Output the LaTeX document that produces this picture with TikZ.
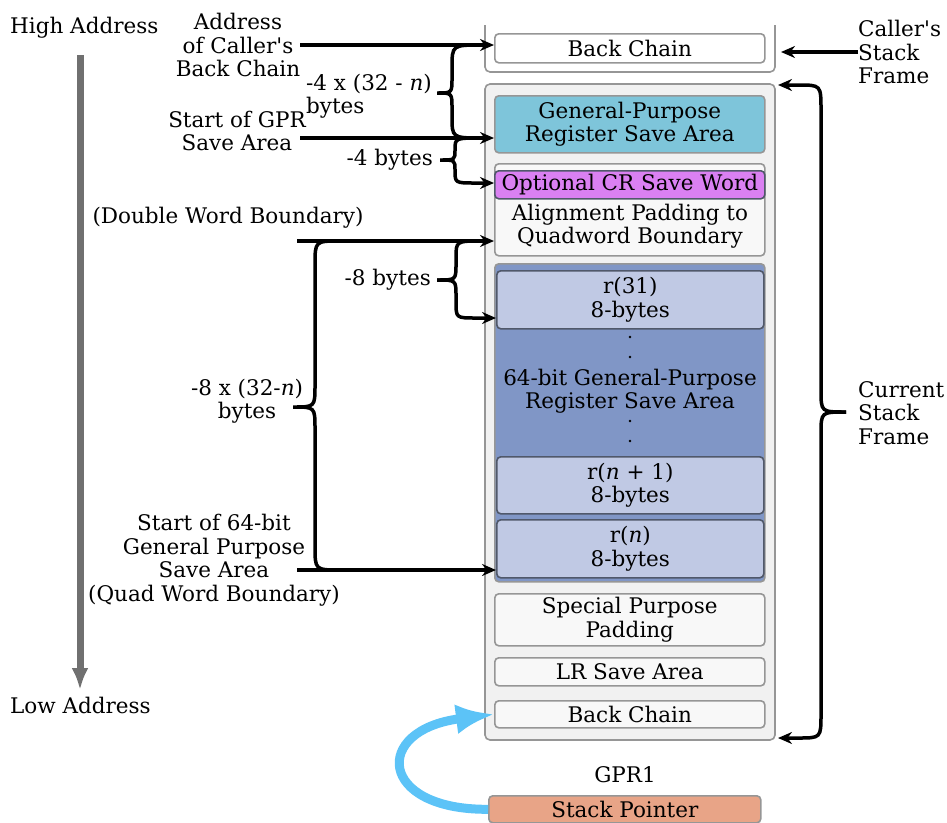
\documentclass[tikz,border=0pt]{standalone}
\usepackage{fontspec}
\setmainfont{DejaVu Serif}
\usetikzlibrary{arrows.meta}

\definecolor{framegray}{RGB}{150,150,150}
\definecolor{framefill}{RGB}{241,241,241}
\definecolor{slotfill}{RGB}{248,248,248}
\definecolor{gprfill}{RGB}{126,197,218}
\definecolor{crfill}{RGB}{218,128,242}
\definecolor{regmid}{RGB}{128,150,198}
\definecolor{regfill}{RGB}{192,201,228}
\definecolor{regdraw}{RGB}{80,88,106}
\definecolor{spfill}{RGB}{232,164,135}
\definecolor{spblue}{RGB}{92,195,247}
\definecolor{addrgray}{RGB}{112,112,112}

\begin{document}
\begin{tikzpicture}[x=1pt,y=-1pt,font=\fontsize{21.5}{23.5}\selectfont,
	frame/.style={draw=framegray,line width=1.6pt,rounded corners=5pt,fill=framefill},
	slot/.style={draw=framegray,line width=1.6pt,rounded corners=4pt,fill=slotfill,
		minimum width=270pt,align=center,inner sep=0pt,anchor=north west},
	reg/.style={slot,draw=regdraw,fill=regfill,minimum width=267pt},
	ptr/.style={-{Stealth[length=14pt,width=12pt]},line width=3.5pt},
	brace/.style={line width=3.5pt},
	lbl/.style={align=center,inner sep=0pt}]
	\useasboundingbox (0,0) rectangle (947,822);

	% caller's frame (open at the top)
	\draw[draw=framegray,line width=1.6pt,rounded corners=5pt,fill=white]
		(485,25) -- (485,72) -- (775,72) -- (775,25);
	\node[slot,fill=white,minimum height=29pt] (bctop) at (494,33) {Back Chain};

	% current frame
	\draw[frame] (485,84) rectangle (775,740);
	\coordinate (curNE) at (775,85);
	\coordinate (curSE) at (775,738);
	\node[slot,fill=gprfill,minimum height=57pt] (gpr) at (494,95)
		{General-Purpose\\Register Save Area};
	\node[slot,minimum height=92pt] (crgroup) at (494,163) {};
	\node[slot,fill=crfill,draw=regdraw,minimum height=28pt] (cr) at (494,170)
		{Optional CR Save Word};
	\node[lbl] (pad) at (630,226) {Alignment Padding to\\Quadword Boundary};
	\node[slot,fill=regmid,minimum height=318pt] (regs) at (494,263) {};
	\node[reg,minimum height=58pt] (r31) at (496,270) {r(31)\\8-bytes};
	\node[lbl] (regtxt) at (630,391) {64-bit General-Purpose\\Register Save Area};
	\foreach \y in {337,357,421,441}
		\fill (630,\y) circle (1.4pt);
	\node[reg,minimum height=57pt] (rn1) at (496,456) {r(\textit{n} + 1)\\8-bytes};
	\node[reg,minimum height=58pt] (rn) at (496,519) {r(\textit{n})\\8-bytes};
	\node[slot,minimum height=52pt] (spp) at (494,593) {Special Purpose\\Padding};
	\node[slot,minimum height=28pt] (lr) at (494,657) {LR Save Area};
	\node[slot,minimum height=27pt] (bcur) at (494,700) {Back Chain};

	% stack pointer
	\node[lbl] (gpr1) at (625,775) {GPR1};
	\node[slot,fill=spfill,minimum width=272pt,minimum height=27pt] (sp) at (488,795)
		{Stack Pointer};
	\draw[-{Latex[length=38pt,width=30pt]},line width=9pt,draw=spblue]
		(sp.west) .. controls (378,810) and (372,730) .. (bcur.west);

	% address direction
	\node[anchor=west,inner sep=0pt] (high) at (10,28) {High Address};
	\node[anchor=west,inner sep=0pt] (low) at (10,705) {Low Address};
	\draw[-{Latex[length=22pt,width=17pt]},line width=7pt,draw=addrgray]
		(80,55) -- (80,690);

	% left labels and pointers
	\node[lbl] (callerbc) at (238,45) {Address\\of Caller\textquotesingle s\\Back Chain};
	\draw[ptr] (callerbc.east) -- (callerbc.east -| bctop.west);
	\node[lbl] (gprstart) at (237,131) {Start of GPR\\Save Area};
	\coordinate (gprline) at (300,138);
	\draw[ptr] (gprline) -- (gprline -| gpr.west);
	\node[lbl] (dwb) at (228,218) {(Double Word Boundary)};
	\coordinate (dwline) at (297,241);
	\draw[ptr] (dwline) -- (dwline -| crgroup.west);
	\node[lbl] (gp64) at (214,560)
		{Start of 64-bit\\General Purpose\\Save Area\\(Quad Word Boundary)};
	\coordinate (qwline) at (297,570);
	\draw[ptr] (qwline) -- (qwline -| rn.west);

	% braces
	\coordinate (tipA) at (437,93);
	\node[align=left,inner sep=0pt,anchor=east] at (432,96)
		{-4 x (32 - \textit{n})\\bytes};
	\draw[brace] (482,45) .. controls (452,45) .. (452,68) -- (452,78)
		.. controls (452,93) .. (tipA) .. controls (452,93) .. (452,108)
		-- (452,116) .. controls (452,138) .. (482,138);

	\coordinate (tipB) at (440,160);
	\node[inner sep=0pt,anchor=east] at (433,160) {-4 bytes};
	\draw[ptr] (482,138) .. controls (455,138) .. (455,150)
		.. controls (455,160) .. (tipB) .. controls (455,160) .. (455,170)
		.. controls (455,183) .. (475,183) -- (cr.west |- 0,183);

	\coordinate (tipC) at (437,280);
	\node[inner sep=0pt,anchor=east] at (431,280) {-8 bytes};
	\draw[brace] (482,241) .. controls (456,241) .. (456,258) -- (456,264)
		.. controls (456,280) .. (tipC);
	\draw[ptr] (tipC) .. controls (456,280) .. (456,296) -- (456,302)
		.. controls (456,318) .. (476,318) -- (r31.west |- 0,318);

	\coordinate (tipD) at (293,407);
	\node[lbl] at (247,401) {-8 x (32-\textit{n})\\bytes};
	\draw[brace] (340,241) .. controls (315,241) .. (315,265) -- (315,385)
		.. controls (315,407) .. (tipD) .. controls (315,407) .. (315,429)
		-- (315,546) .. controls (315,570) .. (340,570);

	% right side
	\node[align=left,inner sep=0pt,anchor=west] (callerlbl) at (858,52)
		{Caller\textquotesingle s\\Stack\\Frame};
	\draw[ptr] (callerlbl.west) -- ++(-77,0);
	\node[align=left,inner sep=0pt,anchor=west] (curlbl) at (858,413)
		{Current\\Stack\\Frame};
	\coordinate (tipE) at (846,412);
	\draw[ptr,shorten >=3pt] (tipE) .. controls (821,412) .. (821,390) -- (821,110)
		.. controls (821,85) .. (798,85) -- (curNE);
	\draw[ptr,shorten >=3pt] (tipE) .. controls (821,412) .. (821,434) -- (821,714)
		.. controls (821,738) .. (798,738) -- (curSE);
\end{tikzpicture}
\end{document}
